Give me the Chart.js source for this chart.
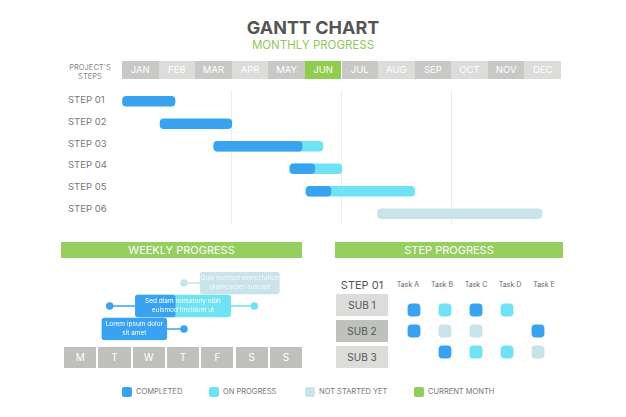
<!DOCTYPE html>
<html><head><meta charset="utf-8">
<script src="https://cdn.jsdelivr.net/npm/chart.js@4"></script>
<style>
body{margin:0;width:626px;height:417px;background:#fff;font-family:Inter,"Open Sans",sans-serif;position:relative;overflow:hidden}
.a{position:absolute}
.t{white-space:nowrap}
canvas{position:absolute}
</style></head><body>
<script>
const months=['JAN','FEB','MAR','APR','MAY','JUN','JUL','AUG','SEP','OCT','NOV','DEC'];
const currentMonth=5;
const steps=['STEP 01','STEP 02','STEP 03','STEP 04','STEP 05','STEP 06'];
const stepCompleted=[[0,1.45],[1.04,3.0],[2.51,4.92],[4.59,5.27],[5.03,5.71],null];
const stepProgress=[null,null,[2.51,5.49],[4.59,6.01],[5.03,8.0],null];
const stepNotStarted=[null,null,null,null,null,[6.99,11.48]];
const weekLabels=['Quis nostrud exerci tation ullamcorper suscipit','Sed diam nonummy nibh euismod tincidunt ut','Lorem ipsum dolor sit amet'];
const weekRows=['Quis','Sed','Lorem'];
const days=['M','T','W','T','F','S','S'];
const weekCompleted=[null,[2.03,3.26],[1.0,3.0]];
const weekProgress=[null,[2.03,4.97],null];
const weekNotStarted=[[4.03,6.47],null,null];
const tasks=['Task A','Task B','Task C','Task D','Task E'];
const subs=['SUB 1','SUB 2','SUB 3'];
// status: 0 none, 1 completed, 2 progress, 3 not started
const taskStatus=[[1,2,1,2,0],[1,3,3,0,1],[0,1,2,2,3]];
const C1='#3aa3f0',C2='#6fe2f5',C3='#c8e3ea',CG='#8fcd5c';
</script>
<div class="a t" style="left:0;width:626px;top:17px;text-align:center;font-size:18px;font-weight:700;color:#555">GANTT CHART</div>
<div class="a t" style="left:0;width:626px;top:38px;text-align:center;font-size:11.5px;color:#8fc75a">MONTHLY PROGRESS</div>
<div class="a" style="left:64px;top:63px;width:52px;text-align:center;font-size:7.5px;color:#888;line-height:9px">PROJECT'S<br>STEPS</div>
<div id="mh"></div><div id="sl"></div>
<canvas id="g" style="left:122px;top:79px;width:439px;height:146px"></canvas>
<div class="a t" style="left:61px;top:242px;width:241px;height:16px;background:#94cf5f;color:#fff;font-size:11px;text-align:center;line-height:16px">WEEKLY PROGRESS</div>
<div class="a t" style="left:335px;top:242px;width:228px;height:16px;background:#94cf5f;color:#fff;font-size:11px;text-align:center;line-height:16px">STEP PROGRESS</div>
<canvas id="w" style="left:64px;top:266px;width:238px;height:80px"></canvas>
<div id="dy"></div>
<div class="a t" style="left:336px;top:278px;width:52px;text-align:center;font-size:11px;color:#555">STEP 01</div>
<div id="tk"></div>
<canvas id="s" style="left:391px;top:292px;width:170px;height:78px"></canvas>
<div id="lg"></div>
<script>
let h='';
months.forEach((m,i)=>{const bg=i===currentMonth?'#8fcd4f':(i%2?'#dcdcdb':'#c8c8c6');
h+=`<div class="a t" style="left:${122+i*439/12}px;top:61px;width:${439/12}px;height:18px;background:${bg};color:#fff;font-size:9.5px;text-align:center;line-height:18px">${m}</div>`;});
document.getElementById('mh').innerHTML=h;
h='';steps.forEach((s,i)=>{h+=`<div class="a t" style="left:68px;top:${94+i*21.75}px;font-size:9.5px;color:#777">${s}</div>`;});
document.getElementById('sl').innerHTML=h;
h='';days.forEach((d,i)=>{h+=`<div class="a t" style="left:${64+i*34.3}px;top:347px;width:32.3px;height:21px;background:#bfc0bc;color:#fff;font-size:10px;text-align:center;line-height:21px">${d}</div>`;});
document.getElementById('dy').innerHTML=h;
h='';tasks.forEach((t,i)=>{h+=`<div class="a t" style="left:${408+i*34-20}px;width:40px;top:280px;text-align:center;font-size:7px;color:#666">${t}</div>`;});
subs.forEach((s,i)=>{const bg=i===1?'#bfc1bd':'#dcdcdb';h+=`<div class="a t" style="left:336px;top:${294+i*26}px;width:52px;height:22px;background:${bg};color:#555;font-size:10px;text-align:center;line-height:22px">${s}</div>`;});
document.getElementById('tk').innerHTML=h;
const lg=[[C1,'COMPLETED',122],[C2,'ON PROGRESS',209],[C3,'NOT STARTED YET',305],[CG,'CURRENT MONTH',414]];
h='';lg.forEach(([c,t,x])=>{h+=`<div class="a" style="left:${x}px;top:387px;width:10px;height:10px;border-radius:2px;background:${c}"></div><div class="a t" style="left:${x+14}px;top:387px;font-size:7.5px;color:#777;line-height:10px">${t}</div>`;});
document.getElementById('lg').innerHTML=h;

Chart.defaults.animation=false;Chart.defaults.plugins.legend.display=false;Chart.defaults.plugins.tooltip.enabled=false;
new Chart(document.getElementById('g'),{type:'bar',data:{labels:steps,datasets:[
{data:stepCompleted,backgroundColor:C1,order:0},
{data:stepProgress,backgroundColor:C2,order:1},
{data:stepNotStarted,backgroundColor:C3,order:2}]},
options:{responsive:false,indexAxis:'y',layout:{padding:{top:11,bottom:0}},
datasets:{bar:{grouped:false,barThickness:10,borderRadius:4,borderSkipped:false}},
scales:{x:{min:0,max:12,ticks:{display:false,stepSize:3},border:{display:false},grid:{color:c=>[3,6,9].includes(c.tick.value)?'#ebebeb':'rgba(0,0,0,0)',drawTicks:false}},
y:{display:false}}}});
const labelPlugin={id:'lbl',afterDatasetsDraw(ch){const ctx=ch.ctx,xs=ch.scales.x,ys=ch.scales.y;
weekRows.forEach((r,i)=>{const rs=[weekCompleted[i],weekProgress[i],weekNotStarted[i]].filter(Boolean);
const lo=Math.min(...rs.map(v=>v[0])),hi=Math.max(...rs.map(v=>v[1]));
const cx=(xs.getPixelForValue(lo)+xs.getPixelForValue(hi))/2,y=ys.getPixelForValue(i);
ctx.save();ctx.fillStyle='#fff';ctx.globalAlpha=i===0?0.85:1;ctx.font='6.5px Inter';ctx.textAlign='center';ctx.textBaseline='middle';
const words=weekLabels[i].split(' ');const half=i===2?3:4;ctx.fillText(words.slice(0,half).join(' '),cx,y-4.5);ctx.fillText(words.slice(half).join(' '),cx,y+4.5);ctx.restore();});}};
new Chart(document.getElementById('w'),{type:'bar',data:{labels:weekRows,datasets:[
{data:weekCompleted,backgroundColor:C1,order:0},
{data:weekProgress,backgroundColor:C2,order:1},
{data:weekNotStarted,backgroundColor:C3,order:2},
{type:'line',data:[{x:3.53,y:'Quis'},{x:4.03,y:'Quis'}],borderColor:C3,backgroundColor:C3,pointRadius:[3,0],borderWidth:1.5,order:5},
{type:'line',data:[{x:1.24,y:'Sed'},{x:2.03,y:'Sed'}],borderColor:C1,backgroundColor:C1,pointRadius:[3,0],borderWidth:1.5,order:5},
{type:'line',data:[{x:4.97,y:'Sed'},{x:5.7,y:'Sed'}],borderColor:C2,backgroundColor:C2,pointRadius:[0,3],borderWidth:1.5,order:5},
{type:'line',data:[{x:3.0,y:'Lorem'},{x:3.53,y:'Lorem'}],borderColor:C1,backgroundColor:C1,pointRadius:[0,3],borderWidth:1.5,order:5}]},
options:{responsive:false,indexAxis:'y',datasets:{bar:{grouped:false,barThickness:22,borderRadius:3,borderSkipped:false}},
scales:{x:{type:'linear',min:0,max:7,display:false},y:{display:false}}},plugins:[labelPlugin]});
const pts={1:[],2:[],3:[]};
taskStatus.forEach((row,r)=>row.forEach((s,c)=>{if(s)pts[s].push({x:c,y:r});}));
new Chart(document.getElementById('s'),{type:'scatter',data:{datasets:[
{data:pts[1],backgroundColor:C1},{data:pts[2],backgroundColor:C2},{data:pts[3],backgroundColor:C3}]},
options:{responsive:false,elements:{point:{pointStyle:'rectRounded',radius:7.5,borderWidth:0}},
scales:{x:{min:-0.5,max:4.5,display:false},y:{min:-0.5,max:2.5,reverse:true,display:false}}}});
</script>
</body></html>
